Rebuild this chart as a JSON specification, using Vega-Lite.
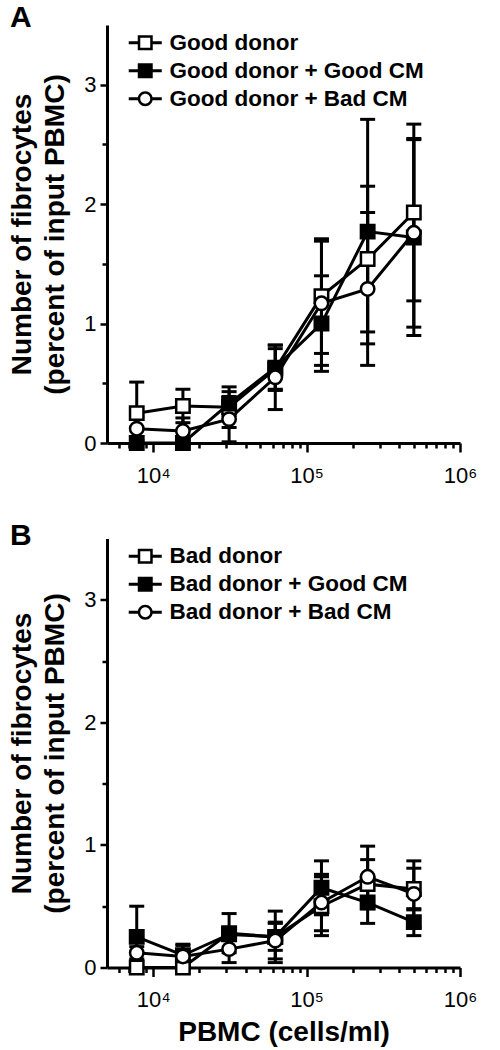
{
  "$schema": "https://vega.github.io/schema/vega-lite/v6.json",
  "background": "white",
  "padding": {"left": 8, "top": 2, "right": 5, "bottom": 2},
  "spacing": 34.5,
  "data": {"values": [
    {"panel": "A", "s": "Good donor", "x": 7812.5, "mean": 0.25, "err": 0.26},
    {"panel": "A", "s": "Good donor", "x": 15625, "mean": 0.31, "err": 0.14},
    {"panel": "A", "s": "Good donor", "x": 31250, "mean": 0.30, "err": 0.17},
    {"panel": "A", "s": "Good donor", "x": 62500, "mean": 0.62, "err": 0.17},
    {"panel": "A", "s": "Good donor", "x": 125000, "mean": 1.23, "err": 0.48},
    {"panel": "A", "s": "Good donor", "x": 250000, "mean": 1.54, "err": 0.61},
    {"panel": "A", "s": "Good donor", "x": 500000, "mean": 1.93, "err": 0.74},
    {"panel": "A", "s": "Good donor + Good CM", "x": 7812.5, "mean": 0.0, "err": 0.0},
    {"panel": "A", "s": "Good donor + Good CM", "x": 15625, "mean": 0.0, "err": 0.0},
    {"panel": "A", "s": "Good donor + Good CM", "x": 31250, "mean": 0.33, "err": 0.10},
    {"panel": "A", "s": "Good donor + Good CM", "x": 62500, "mean": 0.63, "err": 0.19},
    {"panel": "A", "s": "Good donor + Good CM", "x": 125000, "mean": 1.0, "err": 0.40},
    {"panel": "A", "s": "Good donor + Good CM", "x": 250000, "mean": 1.77, "err": 0.94},
    {"panel": "A", "s": "Good donor + Good CM", "x": 500000, "mean": 1.72, "err": 0.82},
    {"panel": "A", "s": "Good donor + Bad CM", "x": 7812.5, "mean": 0.12, "err": 0.10},
    {"panel": "A", "s": "Good donor + Bad CM", "x": 15625, "mean": 0.10, "err": 0.11},
    {"panel": "A", "s": "Good donor + Bad CM", "x": 31250, "mean": 0.20, "err": 0.19},
    {"panel": "A", "s": "Good donor + Bad CM", "x": 62500, "mean": 0.55, "err": 0.27},
    {"panel": "A", "s": "Good donor + Bad CM", "x": 125000, "mean": 1.17, "err": 0.52},
    {"panel": "A", "s": "Good donor + Bad CM", "x": 250000, "mean": 1.29, "err": 0.64},
    {"panel": "A", "s": "Good donor + Bad CM", "x": 500000, "mean": 1.76, "err": 0.79},
    {"panel": "B", "s": "Bad donor", "x": 7812.5, "mean": 0.0, "err": 0.0},
    {"panel": "B", "s": "Bad donor", "x": 15625, "mean": 0.0, "err": 0.0},
    {"panel": "B", "s": "Bad donor", "x": 31250, "mean": 0.28, "err": 0.16},
    {"panel": "B", "s": "Bad donor", "x": 62500, "mean": 0.25, "err": 0.21},
    {"panel": "B", "s": "Bad donor", "x": 125000, "mean": 0.50, "err": 0.24},
    {"panel": "B", "s": "Bad donor", "x": 250000, "mean": 0.68, "err": 0.20},
    {"panel": "B", "s": "Bad donor", "x": 500000, "mean": 0.64, "err": 0.17},
    {"panel": "B", "s": "Bad donor + Good CM", "x": 7812.5, "mean": 0.25, "err": 0.25},
    {"panel": "B", "s": "Bad donor + Good CM", "x": 15625, "mean": 0.10, "err": 0.08},
    {"panel": "B", "s": "Bad donor + Good CM", "x": 31250, "mean": 0.27, "err": 0.05},
    {"panel": "B", "s": "Bad donor + Good CM", "x": 62500, "mean": 0.25, "err": 0.11},
    {"panel": "B", "s": "Bad donor + Good CM", "x": 125000, "mean": 0.65, "err": 0.22},
    {"panel": "B", "s": "Bad donor + Good CM", "x": 250000, "mean": 0.53, "err": 0.17},
    {"panel": "B", "s": "Bad donor + Good CM", "x": 500000, "mean": 0.37, "err": 0.11},
    {"panel": "B", "s": "Bad donor + Bad CM", "x": 7812.5, "mean": 0.12, "err": 0.05},
    {"panel": "B", "s": "Bad donor + Bad CM", "x": 15625, "mean": 0.09, "err": 0.10},
    {"panel": "B", "s": "Bad donor + Bad CM", "x": 31250, "mean": 0.15, "err": 0.11},
    {"panel": "B", "s": "Bad donor + Bad CM", "x": 62500, "mean": 0.22, "err": 0.15},
    {"panel": "B", "s": "Bad donor + Bad CM", "x": 125000, "mean": 0.53, "err": 0.23},
    {"panel": "B", "s": "Bad donor + Bad CM", "x": 250000, "mean": 0.74, "err": 0.25},
    {"panel": "B", "s": "Bad donor + Bad CM", "x": 500000, "mean": 0.60, "err": 0.27}
  ]},
  "vconcat": [
    {
      "width": 353,
      "height": 418,
      "title": {"text": "A", "anchor": "start", "frame": "group", "fontSize": 30, "fontWeight": "bold", "font": "Liberation Sans", "color": "black", "dx": -97, "dy": 31.5, "offset": 0, "baseline": "alphabetic"},
      "transform": [{"filter": "datum.panel == 'A'"}],
      "encoding": {
        "x": {"field": "x", "type": "quantitative",
          "scale": {"type": "log", "domain": [5000, 1000000], "nice": false},
          "axis": {"title": null,
            "values": [6000, 7000, 8000, 9000, 10000, 20000, 30000, 40000, 50000, 60000, 70000, 80000, 90000, 100000, 200000, 300000, 400000, 500000, 600000, 700000, 800000, 900000, 1000000],
            "labelExpr": "datum.value == 10000 ? '10⁴' : datum.value == 100000 ? '10⁵' : datum.value == 1000000 ? '10⁶' : ''",
            "tickSize": {"condition": {"test": "datum.value == 10000 || datum.value == 100000 || datum.value == 1000000", "value": 9}, "value": 5},
            "labelOverlap": false, "labelFlush": false, "labelPadding": 13}},
        "y": {"field": "mean", "type": "quantitative",
          "scale": {"domain": [0, 3.5], "nice": false},
          "axis": {"title": ["Number of fibrocytes", "(percent of input PBMC)"],
            "values": [0, 0.5, 1, 1.5, 2, 2.5, 3],
            "labelExpr": "datum.value % 1 == 0 ? format(datum.value, 'd') : ''",
            "tickSize": {"condition": {"test": "datum.value % 1 == 0", "value": 7}, "value": 5},
            "labelOverlap": false, "labelPadding": 4, "titlePadding": 14}}
      },
      "layer": [
        {"mark": {"type": "errorbar", "color": "black", "opacity": 1, "thickness": 3, "rule": {"opacity": 1, "color": "black"}, "ticks": {"size": 15, "thickness": 3, "color": "black", "opacity": 1}},
         "encoding": {"yError": {"field": "err"}, "detail": {"field": "s"}}},
        {"mark": {"type": "line", "color": "black", "strokeWidth": 3},
         "encoding": {"detail": {"field": "s"}}},
        {"mark": {"type": "point", "filled": true, "stroke": "black", "strokeWidth": 2.5, "size": 180, "opacity": 1},
         "encoding": {
           "shape": {"condition": {"test": "datum.s == 'Good donor + Bad CM'", "value": "circle"}, "value": "square"},
           "fill": {"condition": {"test": "datum.s == 'Good donor + Good CM'", "value": "black"}, "value": "white"}
         }},
        {"transform": [{"filter": "false"}],
         "mark": {"type": "point", "filled": true, "color": "black", "opacity": 1},
         "encoding": {
           "shape": {"field": "s", "type": "nominal",
             "scale": {"domain": ["Good donor", "Good donor + Good CM", "Good donor + Bad CM"],
               "range": [
                 "M-2.36,-0.21H-1.07V0.21H-2.36ZM1.07,-0.21H2.36V0.21H1.07ZM-1.07,-1.07H1.07V1.07H-1.07ZM-0.71,-0.71V0.71H0.71V-0.71Z",
                 "M-2.36,-0.21H-1.07V0.21H-2.36ZM1.07,-0.21H2.36V0.21H1.07ZM-1.07,-1.07H1.07V1.07H-1.07Z",
                 "M-2.36,-0.21H-1.0V0.21H-2.36ZM1.0,-0.21H2.36V0.21H1.0ZM-1.07,0A1.07,1.07,0,1,1,1.07,0A1.07,1.07,0,1,1,-1.07,0ZM-0.71,0A0.71,0.71,0,1,0,0.71,0A0.71,0.71,0,1,0,-0.71,0Z"
               ]},
             "legend": {"title": null}}
         }}
      ]
    },
    {
      "width": 353,
      "height": 429,
      "title": {"text": "B", "anchor": "start", "frame": "group", "fontSize": 30, "fontWeight": "bold", "font": "Liberation Sans", "color": "black", "dx": -97, "dy": 36.5, "offset": 0, "baseline": "alphabetic"},
      "transform": [{"filter": "datum.panel == 'B'"}],
      "encoding": {
        "x": {"field": "x", "type": "quantitative",
          "scale": {"type": "log", "domain": [5000, 1000000], "nice": false},
          "axis": {"title": "PBMC (cells/ml)",
            "values": [6000, 7000, 8000, 9000, 10000, 20000, 30000, 40000, 50000, 60000, 70000, 80000, 90000, 100000, 200000, 300000, 400000, 500000, 600000, 700000, 800000, 900000, 1000000],
            "labelExpr": "datum.value == 10000 ? '10⁴' : datum.value == 100000 ? '10⁵' : datum.value == 1000000 ? '10⁶' : ''",
            "tickSize": {"condition": {"test": "datum.value == 10000 || datum.value == 100000 || datum.value == 1000000", "value": 9}, "value": 5},
            "labelOverlap": false, "labelFlush": false, "labelPadding": 13, "titlePadding": 8}},
        "y": {"field": "mean", "type": "quantitative",
          "scale": {"domain": [0, 3.5], "nice": false},
          "axis": {"title": ["Number of fibrocytes", "(percent of input PBMC)"],
            "values": [0, 0.5, 1, 1.5, 2, 2.5, 3],
            "labelExpr": "datum.value % 1 == 0 ? format(datum.value, 'd') : ''",
            "tickSize": {"condition": {"test": "datum.value % 1 == 0", "value": 7}, "value": 5},
            "labelOverlap": false, "labelPadding": 4, "titlePadding": 14}}
      },
      "layer": [
        {"mark": {"type": "errorbar", "color": "black", "opacity": 1, "thickness": 3, "rule": {"opacity": 1, "color": "black"}, "ticks": {"size": 15, "thickness": 3, "color": "black", "opacity": 1}},
         "encoding": {"yError": {"field": "err"}, "detail": {"field": "s"}}},
        {"mark": {"type": "line", "color": "black", "strokeWidth": 3},
         "encoding": {"detail": {"field": "s"}}},
        {"mark": {"type": "point", "filled": true, "stroke": "black", "strokeWidth": 2.5, "size": 180, "opacity": 1},
         "encoding": {
           "shape": {"condition": {"test": "datum.s == 'Bad donor + Bad CM'", "value": "circle"}, "value": "square"},
           "fill": {"condition": {"test": "datum.s == 'Bad donor + Good CM'", "value": "black"}, "value": "white"}
         }},
        {"transform": [{"filter": "false"}],
         "mark": {"type": "point", "filled": true, "color": "black", "opacity": 1},
         "encoding": {
           "shape": {"field": "s", "type": "nominal",
             "scale": {"domain": ["Bad donor", "Bad donor + Good CM", "Bad donor + Bad CM"],
               "range": [
                 "M-2.36,-0.21H-1.07V0.21H-2.36ZM1.07,-0.21H2.36V0.21H1.07ZM-1.07,-1.07H1.07V1.07H-1.07ZM-0.71,-0.71V0.71H0.71V-0.71Z",
                 "M-2.36,-0.21H-1.07V0.21H-2.36ZM1.07,-0.21H2.36V0.21H1.07ZM-1.07,-1.07H1.07V1.07H-1.07Z",
                 "M-2.36,-0.21H-1.0V0.21H-2.36ZM1.0,-0.21H2.36V0.21H1.0ZM-1.07,0A1.07,1.07,0,1,1,1.07,0A1.07,1.07,0,1,1,-1.07,0ZM-0.71,0A0.71,0.71,0,1,0,0.71,0A0.71,0.71,0,1,0,-0.71,0Z"
               ]},
             "legend": {"title": null}}
         }}
      ]
    }
  ],
  "resolve": {"scale": {"shape": "independent"}, "legend": {"shape": "independent"}},
  "config": {
    "font": "Liberation Sans",
    "view": {"stroke": null},
    "axis": {"grid": false, "domainColor": "black", "domainWidth": 3, "tickColor": "black", "tickWidth": 2.5,
      "labelFont": "Liberation Sans", "labelFontSize": 22, "labelColor": "black",
      "titleFont": "Liberation Sans", "titleFontSize": 28, "titleFontWeight": "bold", "titleColor": "black", "titleLineHeight": 33},
    "legend": {"orient": "none", "legendX": 27, "legendY": 6.5, "padding": 0, "labelFont": "Liberation Sans", "labelFontSize": 22.5, "labelFontWeight": "bold", "labelColor": "black", "symbolSize": 196, "symbolFillColor": "black", "symbolStrokeWidth": 0, "labelOffset": 13, "rowPadding": 5, "labelLimit": 400}
  }
}
